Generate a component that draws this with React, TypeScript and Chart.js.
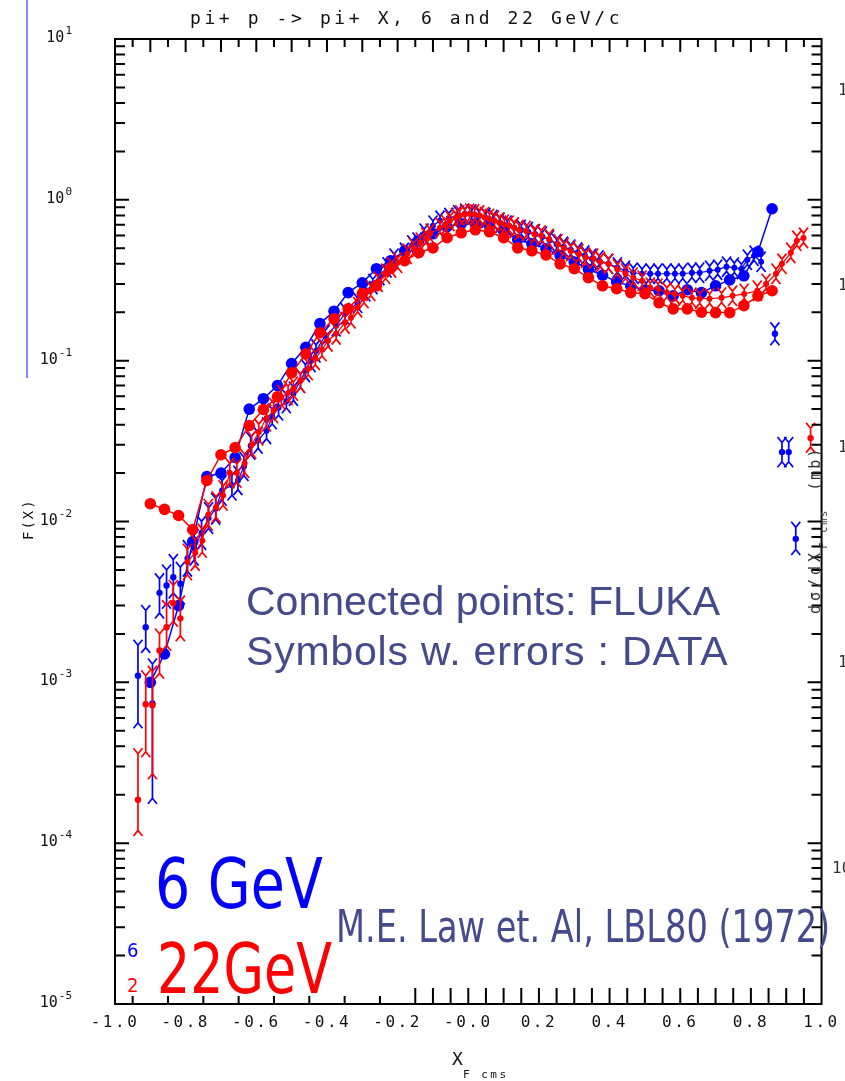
import React, { useEffect, useRef } from "react";
import { Chart, registerables } from "chart.js";
Chart.register(...registerables);

// ---------- FLUKA (connected circles) ----------
const flukaX = [-0.90,-0.86,-0.82,-0.78,-0.74,-0.70,-0.66,-0.62,-0.58,-0.54,-0.50,-0.46,-0.42,-0.38,-0.34,-0.30,-0.26,-0.22,-0.18,-0.14,-0.10,-0.06,-0.02,0.02,0.06,0.10,0.14,0.18,0.22,0.26,0.30,0.34,0.38,0.42,0.46,0.50,0.54,0.58,0.62,0.66,0.70,0.74,0.78,0.82,0.86];
const fluka6 = [0.0010,0.0015,0.0030,0.0075,0.019,0.020,0.025,0.050,0.058,0.070,0.096,0.121,0.170,0.203,0.265,0.305,0.373,0.418,0.482,0.556,0.615,0.68,0.71,0.71,0.69,0.64,0.565,0.533,0.496,0.45,0.41,0.37,0.34,0.31,0.29,0.275,0.272,0.253,0.276,0.265,0.292,0.318,0.337,0.476,0.88];
const fluka22 = [0.0129,0.0119,0.0109,0.0089,0.018,0.026,0.0288,0.0395,0.0497,0.0597,0.084,0.110,0.149,0.182,0.210,0.261,0.292,0.378,0.418,0.469,0.503,0.581,0.624,0.651,0.633,0.581,0.503,0.482,0.455,0.400,0.373,0.328,0.292,0.280,0.265,0.261,0.229,0.210,0.210,0.200,0.199,0.199,0.220,0.253,0.272];

// ---------- DATA 6 GeV ----------
const d6LowX = [-0.935,-0.913,-0.894,-0.874,-0.854,-0.835,-0.815];
const d6LowY = [0.0011,0.0022,0.00074,0.0036,0.0040,0.0045,0.0041];
const d6LowLo = [0.00056,0.00165,0.00019,0.0027,0.0031,0.0036,0.0033];
const d6LowHi = [0.0017,0.0028,0.0013,0.0044,0.0050,0.0058,0.0052];

const d6X = [-0.795,-0.776,-0.755,-0.735,-0.715,-0.697,-0.669,-0.652,-0.635,-0.616,-0.595,-0.571,-0.555,-0.537,-0.515,-0.495,-0.475,-0.461,-0.445,-0.431,-0.405,-0.374,-0.349,-0.313,-0.290,-0.270,-0.250,-0.230,-0.210,-0.181,-0.160,-0.145,-0.125,-0.100,-0.080,-0.055,-0.030,-0.010,0.010,0.030,0.050,0.070,0.090,0.110,0.130,0.150,0.170,0.190,0.210,0.230,0.250,0.270,0.290,0.310,0.330,0.350,0.370,0.397,0.422,0.445,0.467,0.492,0.515,0.537,0.562,0.585,0.607,0.633,0.655,0.683,0.706,0.731,0.753,0.773,0.790,0.809,0.829];
const d6Y = [0.0059,0.0069,0.0085,0.0105,0.012,0.0156,0.0168,0.018,0.022,0.0296,0.032,0.0367,0.045,0.051,0.056,0.0623,0.075,0.0867,0.100,0.115,0.143,0.165,0.196,0.229,0.27,0.30,0.34,0.38,0.43,0.468,0.52,0.541,0.615,0.69,0.74,0.77,0.80,0.82,0.81,0.79,0.77,0.75,0.72,0.69,0.67,0.65,0.63,0.61,0.59,0.56,0.53,0.51,0.49,0.47,0.45,0.43,0.42,0.40,0.38,0.362,0.352,0.347,0.347,0.347,0.347,0.347,0.347,0.352,0.352,0.362,0.368,0.384,0.378,0.372,0.424,0.449,0.412];
const d6ErrPct = [20,20,18,16,16,15,15,14,14,13,12,12,11,11,10,10,10,9,9,9,8,8,8,7,7,7,7,7,7,7,7,7,7,7,7,7,7,7,7,7,7,7,7,7,7,7,7,7,7,7,7,7,7,7,7,7,7,7,7,7,7,7,7,7,7,7,7,7,7,7,7,7,7,7,7,7,7];

const d6EndX = [0.868,0.888,0.907,0.927];
const d6EndY = [0.147,0.027,0.027,0.0078];
const d6EndLo = [0.135,0.0235,0.0235,0.0067];
const d6EndHi = [0.160,0.031,0.031,0.0092];

// ---------- DATA 22 GeV ----------
const d22LowX = [-0.935,-0.913,-0.894,-0.874,-0.854,-0.835,-0.815];
const d22LowY = [0.000186,0.00073,0.00072,0.00158,0.0022,0.0031,0.0025];
const d22LowLo = [0.00012,0.00037,0.00027,0.00114,0.0017,0.0024,0.00195];
const d22LowHi = [0.00036,0.0011,0.00117,0.0020,0.0030,0.0040,0.0032];

const d22X = [-0.795,-0.773,-0.753,-0.736,-0.714,-0.694,-0.675,-0.655,-0.633,-0.613,-0.593,-0.571,-0.551,-0.529,-0.510,-0.495,-0.475,-0.453,-0.433,-0.414,-0.397,-0.374,-0.349,-0.332,-0.313,-0.295,-0.276,-0.255,-0.234,-0.217,-0.200,-0.173,-0.155,-0.136,-0.120,-0.108,-0.080,-0.065,-0.052,-0.036,-0.024,-0.010,0.004,0.018,0.032,0.046,0.060,0.074,0.088,0.102,0.116,0.130,0.144,0.164,0.187,0.206,0.229,0.254,0.271,0.290,0.313,0.332,0.355,0.374,0.397,0.422,0.445,0.467,0.492,0.515,0.537,0.562,0.585,0.607,0.633,0.655,0.683,0.717,0.748,0.781,0.818,0.843,0.871,0.888,0.913,0.930,0.949];
const d22Y = [0.0056,0.0064,0.0076,0.011,0.0123,0.0145,0.020,0.020,0.023,0.030,0.036,0.044,0.049,0.059,0.063,0.067,0.075,0.089,0.103,0.117,0.133,0.147,0.172,0.185,0.215,0.245,0.272,0.31,0.347,0.38,0.406,0.462,0.50,0.541,0.58,0.615,0.67,0.70,0.74,0.77,0.80,0.81,0.82,0.81,0.80,0.78,0.76,0.74,0.72,0.70,0.69,0.67,0.65,0.64,0.61,0.60,0.57,0.53,0.50,0.48,0.46,0.436,0.43,0.41,0.40,0.37,0.347,0.328,0.314,0.284,0.28,0.265,0.26,0.253,0.246,0.243,0.243,0.246,0.253,0.26,0.272,0.30,0.347,0.40,0.468,0.556,0.58];
const d22ErrPct = [20,20,18,16,16,15,15,14,14,13,12,12,11,11,10,10,10,9,9,9,8,8,8,8,7,7,7,7,7,7,7,7,7,7,7,7,7,7,7,7,7,7,7,7,7,7,7,7,7,7,7,7,7,7,7,7,7,7,7,7,7,7,7,7,7,7,7,7,7,7,7,7,7,7,7,7,7,7,7,7,7,7,7,7,7,7,7];

const d22EndX = [0.969];
const d22EndY = [0.033];
const d22EndLo = [0.029];
const d22EndHi = [0.038];

// ---------- axes ----------
const yDecades = [-5, -4, -3, -2, -1, 0, 1];
const topTicks = [-0.95,-0.9,-0.85,-0.8,-0.75,-0.7,-0.65,-0.6,-0.55,-0.5,-0.45,-0.4,-0.35,-0.3,-0.25,-0.2,-0.15,-0.1,-0.05,0,0.05,0.1,0.15,0.2,0.25,0.3,0.35,0.4,0.45,0.5,0.55,0.6,0.65,0.7,0.75,0.8,0.85,0.9,0.95];
const bottomShortTicks = [-0.95,-0.85,-0.75,-0.65,-0.55,-0.45,-0.35,-0.25];
const bottomLongTicks = [-0.15,-0.1,-0.05,0,0.05,0.1,0.15,0.2,0.25,0.3,0.35,0.4,0.45,0.5,0.55,0.6,0.65,0.7,0.75,0.8,0.85,0.9,0.95];

const BLUE = "#0000ff";
const RED = "#ff0000";
const SLATE = "#454a8c";

const pts = (xs: number[], ys: number[]) => xs.map((x, i) => ({ x, y: ys[i] }));
const loFromPct = (ys: number[], p: number[]) => ys.map((y, i) => y / (1 + (p[i] ?? 7) / 100));
const hiFromPct = (ys: number[], p: number[]) => ys.map((y, i) => y * (1 + (p[i] ?? 7) / 100));

const errPlugin = {
  id: "errbars",
  afterDatasetDraw(chart: any, args: any) {
    const ds = chart.data.datasets[args.index];
    if (!ds.errLo) return;
    const { ctx } = chart;
    const xs = chart.scales.x, ys = chart.scales.y;
    ctx.save();
    ctx.strokeStyle = ds.borderColor;
    ctx.lineWidth = 1.7;
    ds.data.forEach((p: any, i: number) => {
      const px = xs.getPixelForValue(p.x);
      const yl = ys.getPixelForValue(ds.errLo[i]);
      const yh = ys.getPixelForValue(ds.errHi[i]);
      ctx.beginPath();
      ctx.moveTo(px, yl); ctx.lineTo(px, yh);
      ctx.moveTo(px - 4.5, yh - 5.5); ctx.lineTo(px, yh); ctx.lineTo(px + 4.5, yh - 5.5);
      ctx.moveTo(px - 4.5, yl + 5.5); ctx.lineTo(px, yl); ctx.lineTo(px + 4.5, yl + 5.5);
      ctx.stroke();
    });
    ctx.restore();
  },
};

const framePlugin = {
  id: "frame",
  beforeDraw(chart: any) {
    (chart.ctx as any).letterSpacing = "2.5px";
  },
  beforeDatasetsDraw(chart: any) {
    (chart.ctx as any).letterSpacing = "0px";
  },
  afterDraw(chart: any) {
    const { ctx, chartArea: a } = chart;
    const xs = chart.scales.x, ys = chart.scales.y;
    ctx.save();
    (ctx as any).letterSpacing = "0px";
    ctx.strokeStyle = "#000";
    ctx.lineWidth = 2;
    ctx.strokeRect(a.left, a.top, a.right - a.left, a.bottom - a.top);
    ctx.beginPath();
    for (const d of yDecades) {
      for (let m = 1; m <= 9; m++) {
        const v = m * Math.pow(10, d);
        if (v > 10.0001) continue;
        const py = ys.getPixelForValue(v);
        const len = m === 1 ? 14 : 10;
        ctx.moveTo(a.left, py); ctx.lineTo(a.left + len, py);
        ctx.moveTo(a.right, py); ctx.lineTo(a.right - len, py);
      }
    }
    topTicks.forEach((v, i) => {
      const px = xs.getPixelForValue(v);
      const len = i % 2 === 1 ? 13 : 8;
      ctx.moveTo(px, a.top); ctx.lineTo(px, a.top + len);
    });
    bottomShortTicks.forEach((v) => {
      const px = xs.getPixelForValue(v);
      ctx.moveTo(px, a.bottom); ctx.lineTo(px, a.bottom - 8);
    });
    bottomLongTicks.forEach((v) => {
      const px = xs.getPixelForValue(v);
      ctx.moveTo(px, a.bottom); ctx.lineTo(px, a.bottom - 16);
    });
    ctx.stroke();

    // y labels 10^n
    ctx.fillStyle = "#111";
    ctx.textAlign = "left";
    ctx.textBaseline = "alphabetic";
    for (const d of yDecades) {
      const py = ys.getPixelForValue(Math.pow(10, d));
      const exp = d < 0 ? "-" + -d : String(d);
      ctx.font = '15px "DejaVu Sans Mono"';
      const wB = ctx.measureText("10").width;
      ctx.font = '11px "DejaVu Sans Mono"';
      const wE = ctx.measureText(exp).width;
      const xr = 72;
      ctx.font = '15px "DejaVu Sans Mono"';
      ctx.fillText("10", xr - wE - wB - 1, py + 3);
      ctx.font = '11px "DejaVu Sans Mono"';
      ctx.fillText(exp, xr - wE, py - 5);
    }
    ctx.restore();
  },
};

const txt = (extra: React.CSSProperties): React.CSSProperties => ({
  position: "absolute",
  whiteSpace: "nowrap",
  lineHeight: 1,
  margin: 0,
  ...extra,
});

const NARROW = '"Liberation Sans Narrow", "DejaVu Sans Condensed", sans-serif';
const MONO = '"DejaVu Sans Mono", monospace';

export default function App() {
  const ref = useRef<HTMLCanvasElement | null>(null);
  useEffect(() => {
    if (!ref.current) return;
    const line = (label: string, data: any[], color: string, extra: any = {}) => ({
      label,
      data,
      borderColor: color,
      backgroundColor: color,
      pointBackgroundColor: color,
      pointBorderColor: color,
      pointBorderWidth: 0,
      borderWidth: 1.5,
      showLine: true,
      ...extra,
    });
    const chart = new Chart(ref.current, {
      type: "scatter",
      data: {
        datasets: [
          line("FLUKA 22 GeV", pts(flukaX, fluka22), RED, { pointRadius: 5.8 }),
          line("DATA 22 GeV", pts(d22X, d22Y), RED, {
            pointRadius: 3, borderWidth: 1.2,
            errLo: loFromPct(d22Y, d22ErrPct), errHi: hiFromPct(d22Y, d22ErrPct),
          }),
          line("DATA 22 GeV low", pts(d22LowX, d22LowY), RED, {
            pointRadius: 3.2, showLine: false, errLo: d22LowLo, errHi: d22LowHi,
          }),
          line("DATA 22 GeV end", pts(d22EndX, d22EndY), RED, {
            pointRadius: 3.2, showLine: false, errLo: d22EndLo, errHi: d22EndHi,
          }),
          line("FLUKA 6 GeV", pts(flukaX, fluka6), BLUE, { pointRadius: 5.8 }),
          line("DATA 6 GeV", pts(d6X, d6Y), BLUE, {
            pointRadius: 3, borderWidth: 1.2,
            errLo: loFromPct(d6Y, d6ErrPct), errHi: hiFromPct(d6Y, d6ErrPct),
          }),
          line("DATA 6 GeV low", pts(d6LowX, d6LowY), BLUE, {
            pointRadius: 3.2, showLine: false, errLo: d6LowLo, errHi: d6LowHi,
          }),
          line("DATA 6 GeV end", pts(d6EndX, d6EndY), BLUE, {
            pointRadius: 3.2, showLine: false, errLo: d6EndLo, errHi: d6EndHi,
          }),
        ] as any,
      },
      options: {
        animation: false,
        responsive: false,
        devicePixelRatio: 1,
        events: [],
        layout: { padding: { left: 0, right: 17, top: 39, bottom: 0 } },
        plugins: { legend: { display: false }, tooltip: { enabled: false } },
        scales: {
          x: {
            type: "linear",
            min: -1,
            max: 1,
            grid: { display: false, drawTicks: false },
            border: { display: false },
            ticks: {
              stepSize: 0.2,
              autoSkip: false,
              maxRotation: 0,
              padding: 9,
              color: "#111",
              font: { family: "DejaVu Sans Mono", size: 16 },
              callback: (v: any) => {
                const n = Number(v);
                return Math.abs(n) < 1e-9 ? "-0.0" : n.toFixed(1);
              },
            },
            afterFit: (s: any) => { s.height = 77; },
          },
          y: {
            type: "logarithmic",
            min: 1e-5,
            max: 10,
            grid: { display: false, drawTicks: false },
            border: { display: false },
            ticks: { display: false },
            afterFit: (s: any) => { s.width = 115; },
          },
        },
      } as any,
      plugins: [errPlugin, framePlugin],
    });
    return () => chart.destroy();
  }, []);

  return (
    <div style={{ position: "absolute", left: 0, top: 0, width: 845, height: 1081, overflow: "hidden", background: "#fff" }}>
      <canvas ref={ref} width={845} height={1081} style={{ position: "absolute", left: 0, top: 0 }} />
      <div style={{ position: "absolute", left: 26, top: 0, width: 2, height: 378, background: "#7b8cf0" }} />
      <div style={txt({ left: 190, top: 7, font: `18px ${MONO}`, letterSpacing: "3.6px", color: "#111" })}>
        pi+ p -&gt; pi+ X, 6 and 22 GeV/c
      </div>
      <div style={txt({ left: 20, top: 540, font: `14px ${MONO}`, letterSpacing: "2px", color: "#111", transform: "rotate(-90deg)", transformOrigin: "0 0" })}>
        F(X)
      </div>
      <div style={txt({ left: 452, top: 1048, font: `18px ${MONO}`, color: "#111" })}>X</div>
      <div style={txt({ left: 463, top: 1068, font: `11px ${MONO}`, letterSpacing: "2.5px", color: "#111" })}>F cms</div>
      <div style={txt({ left: 806, top: 614, font: `15px ${MONO}`, color: "#333", transform: "rotate(-90deg)", transformOrigin: "0 0" })}>
        <span style={{ letterSpacing: "4px" }}>dσ/dX</span>
        <span style={{ fontSize: 10, position: "relative", top: 7, letterSpacing: "2px" }}>F cms</span>
        <span style={{ letterSpacing: "2px", marginLeft: 18 }}>(mb)</span>
      </div>
      {[80, 275, 437, 652].map((t) => (
        <div key={t} style={txt({ left: 838, top: t, font: `16px ${MONO}`, color: "#333" })}>1</div>
      ))}
      <div style={txt({ left: 832, top: 858, font: `16px ${MONO}`, color: "#333" })}>10</div>
      <div style={txt({ left: 246, top: 578, font: `41px "Liberation Sans", sans-serif`, color: SLATE })}>
        Connected points: FLUKA
      </div>
      <div style={txt({ left: 246, top: 628, font: `41px "Liberation Sans", sans-serif`, letterSpacing: "0.8px", color: SLATE })}>
        Symbols w. errors : DATA
      </div>
      <div style={txt({ left: 336, top: 900, font: `45px ${NARROW}`, color: SLATE, transform: "scaleX(0.83)", transformOrigin: "0 0" })}>
        M.E. Law et. Al, LBL80 (1972)
      </div>
      <div style={txt({ left: 155, top: 843, font: `70px ${NARROW}`, color: BLUE, transform: "scaleX(0.88)", transformOrigin: "0 0" })}>6 GeV</div>
      <div style={txt({ left: 157, top: 928, font: `70px ${NARROW}`, color: RED, transform: "scaleX(0.83)", transformOrigin: "0 0" })}>22GeV</div>
      <div style={txt({ left: 127, top: 938, font: `20px ${NARROW}`, color: BLUE })}>6</div>
      <div style={txt({ left: 127, top: 973, font: `20px ${NARROW}`, color: RED })}>2</div>
    </div>
  );
}
